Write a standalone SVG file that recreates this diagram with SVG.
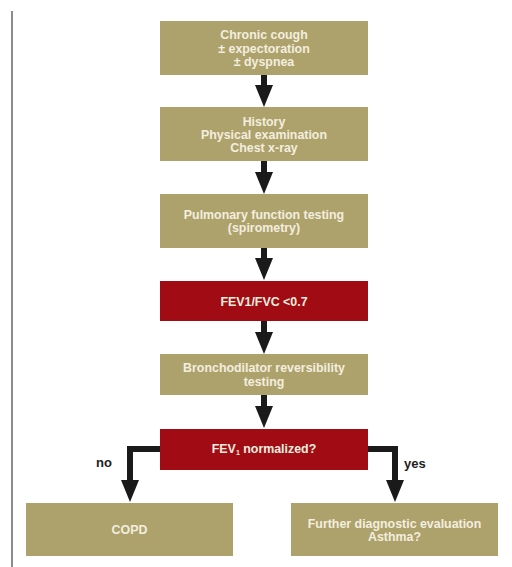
<svg xmlns="http://www.w3.org/2000/svg" width="512" height="567" viewBox="0 0 512 567">
<style>
.tan{fill:#ADA26C}
.red{fill:#A00B14}
.t{font-family:"Liberation Sans",Arial,sans-serif;font-weight:bold;font-size:12.4px;fill:#F3EEDF;text-anchor:middle}
.lbl{font-family:"Liberation Sans",Arial,sans-serif;font-weight:bold;font-size:13px;fill:#222}
.c{fill:none;stroke:#1a1a1a;stroke-width:6;stroke-linejoin:miter}
</style>
<defs>
<marker id="ah" markerUnits="userSpaceOnUse" markerWidth="22" markerHeight="18" refX="0" refY="9" orient="auto" viewBox="0 0 22 18">
<path d="M0,0 L22,9 L0,18 z" fill="#1a1a1a"/>
</marker>
</defs>
<rect width="512" height="567" fill="#fff"/>
<line x1="12" y1="11" x2="12" y2="567" stroke="#8c8c8c" stroke-width="2"/>
<g id="connectors">
<path class="c" d="M264,75 V85" marker-end="url(#ah)"/>
<path class="c" d="M264,161 V172" marker-end="url(#ah)"/>
<path class="c" d="M264,248 V258" marker-end="url(#ah)"/>
<path class="c" d="M264,321 V332" marker-end="url(#ah)"/>
<path class="c" d="M264,395 V406" marker-end="url(#ah)"/>
<path class="c" d="M160,449 H130 V480" marker-end="url(#ah)"/>
<path class="c" d="M368,449 H395 V480" marker-end="url(#ah)"/>
<text class="lbl" x="96" y="467">no</text>
<text class="lbl" x="404" y="468">yes</text>
</g>
<g id="n1">
<rect class="tan" x="160" y="21" width="208" height="54"/>
<text class="t" x="264" y="39">Chronic cough</text>
<text class="t" x="264" y="52.5">± expectoration</text>
<text class="t" x="264" y="66">± dyspnea</text>
</g>
<g id="n2">
<rect class="tan" x="160" y="107" width="208" height="54"/>
<text class="t" x="264" y="126">History</text>
<text class="t" x="264" y="139">Physical examination</text>
<text class="t" x="264" y="152">Chest x-ray</text>
</g>
<g id="n3">
<rect class="tan" x="160" y="194" width="208" height="54"/>
<text class="t" x="264" y="219">Pulmonary function testing</text>
<text class="t" x="264" y="232">(spirometry)</text>
</g>
<g id="n4">
<rect class="red" x="160" y="281" width="208" height="40"/>
<text class="t" x="264" y="306">FEV1/FVC &lt;0.7</text>
</g>
<g id="n5">
<rect class="tan" x="160" y="354" width="208" height="41"/>
<text class="t" x="264" y="372">Bronchodilator reversibility</text>
<text class="t" x="264" y="386">testing</text>
</g>
<g id="n6">
<rect class="red" x="160" y="429" width="208" height="41"/>
<text class="t" x="264" y="453">FEV<tspan font-size="7" dy="2">1</tspan><tspan dy="-2"> normalized?</tspan></text>
</g>
<g id="n7">
<rect class="tan" x="26" y="503" width="207" height="53"/>
<text class="t" x="129.5" y="534">COPD</text>
</g>
<g id="n8">
<rect class="tan" x="291" y="503" width="207" height="53"/>
<text class="t" x="394.5" y="528">Further diagnostic evaluation</text>
<text class="t" x="394.5" y="541">Asthma?</text>
</g>
</svg>
